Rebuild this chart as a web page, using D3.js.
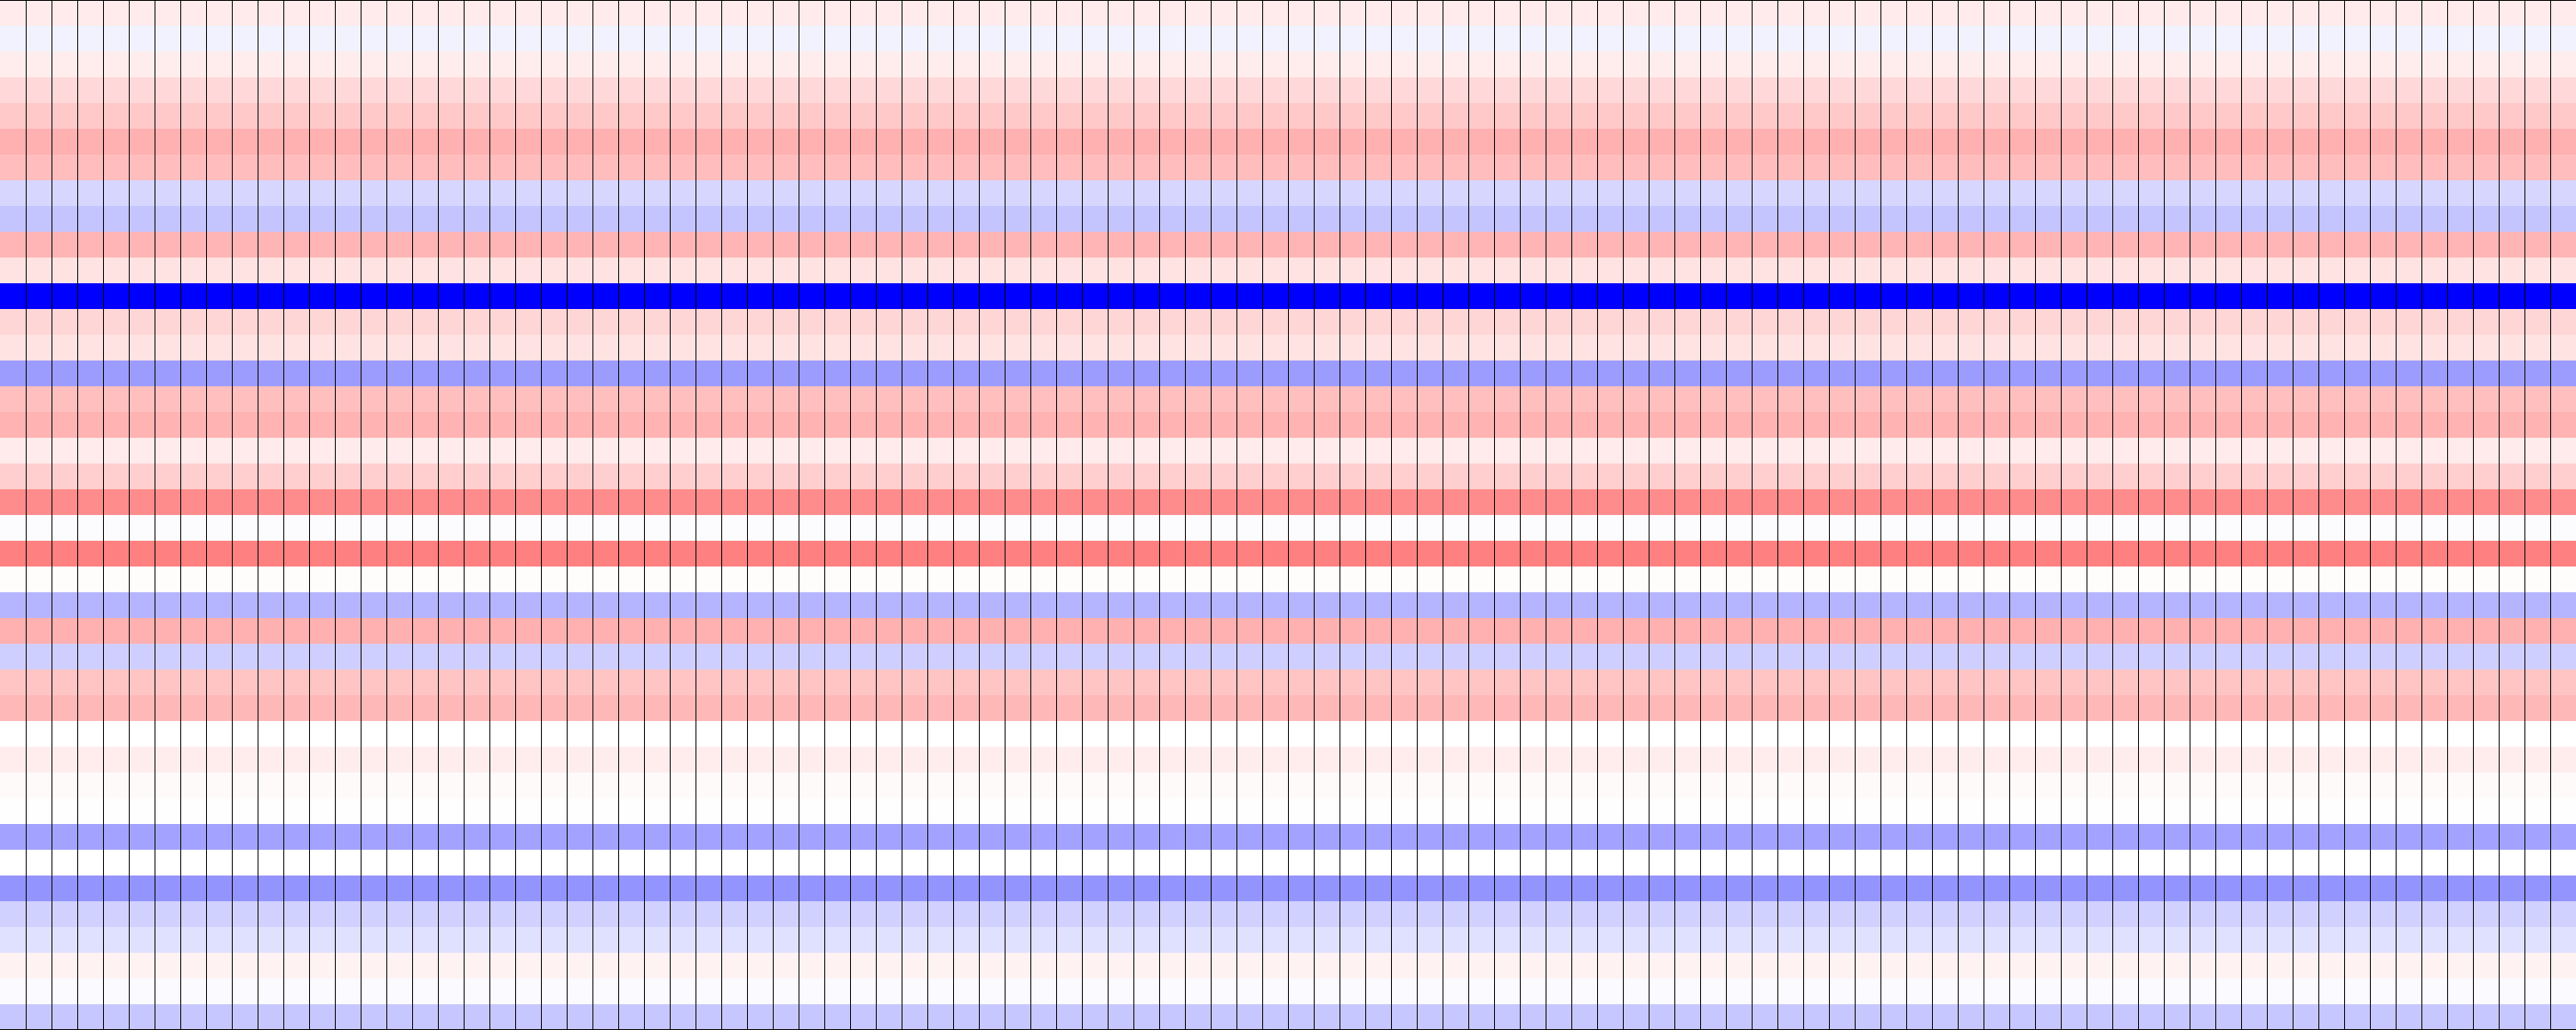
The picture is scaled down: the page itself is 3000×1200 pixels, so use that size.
<!DOCTYPE html>
<html>
<head>
<meta charset="utf-8">
<script src="https://cdn.jsdelivr.net/npm/d3@7"></script>
<style>
  html, body { margin: 0; padding: 0; background: #fff; }
  svg { display: block; }
</style>
</head>
<body>
<svg id="chart"></svg>
<script>
// one value per row, top to bottom (same for every column)
var rowValues = [
  0.08, -0.05, 0.07, 0.15, 0.21, 0.31, 0.26, -0.16, -0.23, 0.29,
  0.11, -1.00, 0.16, 0.11, -0.39, 0.25, 0.30, 0.08, 0.19, 0.45,
  -0.01, 0.50, 0.01, -0.29, 0.31, -0.19, 0.23, 0.28, 0.00, 0.07,
  0.02, 0.005, -0.36, 0.00, -0.42, -0.18, -0.12, 0.05, -0.02, -0.22
];
var columnCount = 100;

var width = 3000,
    height = 1200;

var svg = d3.select('#chart')
  .attr('width', width)
  .attr('height', height);

var columns = d3.range(columnCount);
var rows = d3.range(rowValues.length);

var x = d3.scaleBand().domain(columns).range([0, width]);
var y = d3.scaleBand().domain(rows).range([0, height]);

// blue - white - red, symmetric around zero
var color = d3.scaleLinear()
  .domain([-1, 0, 1])
  .range(['#0000ff', '#ffffff', '#ff0000']);

var cells = [];
rows.forEach(function(r) {
  columns.forEach(function(c) {
    cells.push({ row: r, col: c, value: rowValues[r] });
  });
});

svg.append('g')
  .selectAll('rect')
  .data(cells)
  .enter()
  .append('rect')
  .attr('x', function(d) { return x(d.col); })
  .attr('y', function(d) { return y(d.row); })
  .attr('width', x.bandwidth() + 0.5)
  .attr('height', y.bandwidth() + 0.5)
  .attr('fill', function(d) { return color(d.value); });

// column separators
svg.append('g')
  .selectAll('line')
  .data(columns.slice(1))
  .enter()
  .append('line')
  .attr('x1', function(d) { return x(d) + 0.5; })
  .attr('x2', function(d) { return x(d) + 0.5; })
  .attr('y1', 0)
  .attr('y2', height)
  .attr('stroke', '#000')
  .attr('stroke-width', 1);

// top and bottom edges
svg.append('g')
  .selectAll('line')
  .data([0.5, height - 0.5])
  .enter()
  .append('line')
  .attr('x1', 0)
  .attr('x2', width)
  .attr('y1', function(d) { return d; })
  .attr('y2', function(d) { return d; })
  .attr('stroke', '#000')
  .attr('stroke-width', 1);
</script>
</body>
</html>
